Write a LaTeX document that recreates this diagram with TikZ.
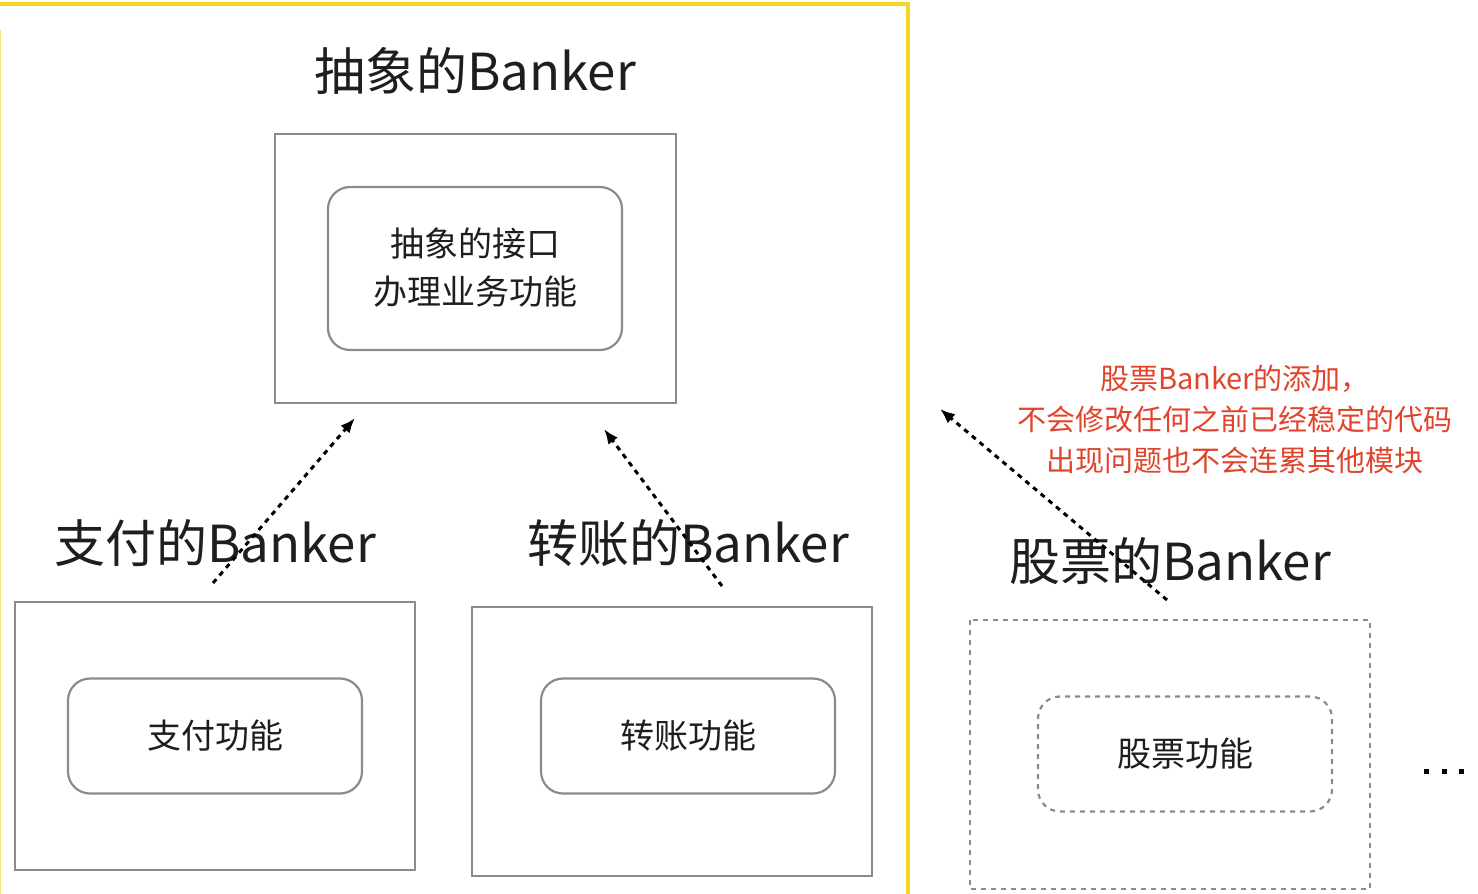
\documentclass[tikz,border=0pt]{standalone}
\usepackage{fontspec}
\setmainfont{Noto Sans CJK SC}
\usetikzlibrary{arrows.meta}
\definecolor{boxgray}{HTML}{8A8A90}
\definecolor{txt}{HTML}{1E1E1E}
\definecolor{ylw}{HTML}{F5D327}
\definecolor{redtxt}{HTML}{E0442C}
\tikzset{
  outerbox/.style={draw=boxgray, line width=2.2pt, fill=none},
  innerbox/.style={draw=boxgray, line width=2.2pt, rounded corners=22pt},
  dashbox/.style={draw=boxgray, line width=2.2pt, dash pattern=on 5pt off 5pt},
  bigtitle/.style={text=txt, font=\fontsize{51}{60}\selectfont, inner sep=0pt},
  boxtext/.style={text=txt, font=\fontsize{34}{48}\selectfont, inner sep=0pt, align=center},
  note/.style={text=redtxt, font=\fontsize{29}{41}\selectfont, inner sep=0pt, align=center},
  dotarrow/.style={draw=black, line width=3pt, dash pattern=on 5pt off 5pt, -{Latex[length=15pt,width=12pt]}},
  dotmark/.style={fill=black, inner sep=0pt, minimum size=5pt, shape=rectangle},
}
\begin{document}
\begin{tikzpicture}[x=1pt,y=-1pt]
\useasboundingbox (0,0) rectangle (1478,894);
% yellow frame
\draw[ylw, line width=4pt] (-5,4) -- (908,4) -- (908,900);
\draw[ylw!60, line width=2pt] (0,30) -- (0,894);

% abstract banker
\node[bigtitle] (tAbs) at (475,71) {抽象的Banker};
\draw[outerbox] (275,134) rectangle (676,403);
\node[innerbox, minimum width=294pt, minimum height=163pt] (iAbs) at (475,268.5) {};
\node[boxtext] (tAbsIn) at (475,268) {抽象的接口\\办理业务功能};
\coordinate (absA) at (355,418);
\coordinate (absB) at (604,429);
\coordinate (absC) at (940,409);

% pay banker
\node[bigtitle] (tPay) at (215,543) {支付的Banker};
\draw[outerbox] (15,602) rectangle (415,870);
\node[innerbox, minimum width=294pt, minimum height=115pt] (iPay) at (215,736) {};
\node[boxtext] (tPayIn) at (215,736) {支付功能};
\coordinate (payS) at (213,583);

% transfer banker
\node[bigtitle] (tTr) at (688,543) {转账的Banker};
\draw[outerbox] (472,607) rectangle (872,876);
\node[innerbox, minimum width=294pt, minimum height=115pt] (iTr) at (688,736) {};
\node[boxtext] (tTrIn) at (688,736) {转账功能};
\coordinate (trS) at (722,586);

% stock banker
\node[bigtitle] (tSt) at (1170,561) {股票的Banker};
\draw[dashbox] (970,620) rectangle (1370,889);
\node[innerbox, dashbox, rounded corners=22pt, minimum width=294pt, minimum height=115pt] (iSt) at (1185,754) {};
\node[boxtext] (tStIn) at (1185,754) {股票功能};
\coordinate (stS) at (1167,600);

% note
\node[note] (nt) at (1235,419) {股票Banker的添加，\\不会修改任何之前已经稳定的代码\\出现问题也不会连累其他模块};

% ellipsis
\node[dotmark] (d1) at (1426,771) {};
\node[dotmark] (d2) at (1444,771) {};
\node[dotmark] (d3) at (1461,771) {};

% arrows
\draw[dotarrow] (payS) -- (absA);
\draw[dotarrow] (trS) -- (absB);
\draw[dotarrow] (stS) -- (absC);
\end{tikzpicture}
\end{document}
